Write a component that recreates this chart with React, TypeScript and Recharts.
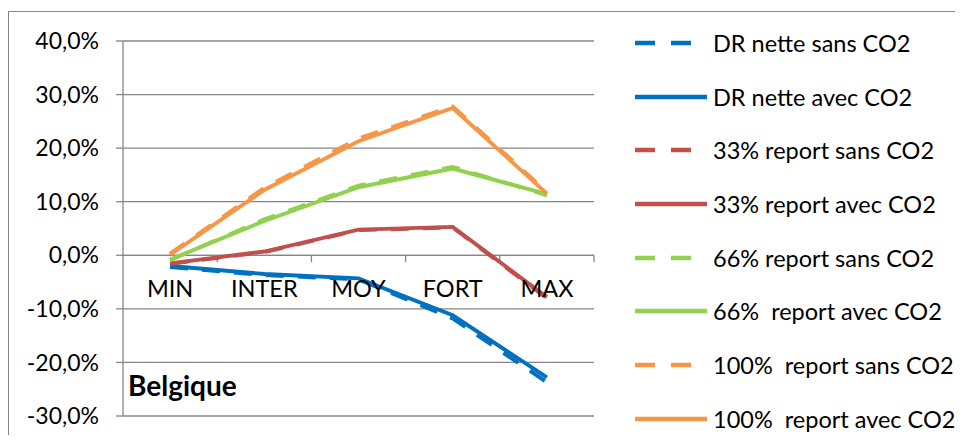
import React from 'react';
import { LineChart, Line, XAxis, YAxis, CartesianGrid, ReferenceLine, ReferenceDot, Legend } from 'recharts';

const categories = ['MIN', 'INTER', 'MOY', 'FORT', 'MAX'];
const drSans = [-2.2, -3.7, -4.5, -11.8, -23.7];
const drAvec = [-2.0, -3.5, -4.3, -11.2, -22.8];
const r33Sans = [-1.6, 0.6, 4.7, 5.2, -8.0];
const r33Avec = [-1.5, 0.7, 4.8, 5.3, -7.8];
const r66Sans = [-0.9, 6.7, 13.0, 16.5, 11.2];
const r66Avec = [-0.8, 6.4, 12.7, 16.2, 11.4];
const r100Sans = [0.3, 12.6, 21.8, 27.8, 11.8];
const r100Avec = [0.1, 12.2, 21.3, 27.5, 11.5];
const yTicks = [-30, -20, -10, 0, 10, 20, 30, 40];

const FONT = 'Lato, "Liberation Sans", sans-serif';
const GRID = '#868686';

const series = [
  { key: 'drSans', name: 'DR nette sans CO2', color: '#0070C0', dashed: true },
  { key: 'drAvec', name: 'DR nette avec CO2', color: '#0070C0', dashed: false },
  { key: 'r33Sans', name: '33% report sans CO2', color: '#C0504D', dashed: true },
  { key: 'r33Avec', name: '33% report avec CO2', color: '#C0504D', dashed: false },
  { key: 'r66Sans', name: '66% report sans CO2', color: '#92D050', dashed: true },
  { key: 'r66Avec', name: '66%  report avec CO2', color: '#92D050', dashed: false },
  { key: 'r100Sans', name: '100%  report sans CO2', color: '#F79646', dashed: true },
  { key: 'r100Avec', name: '100%  report avec CO2', color: '#F79646', dashed: false },
];

const data = categories.map((cat, i) => ({
  cat,
  x: i + 0.5,
  drSans: drSans[i],
  drAvec: drAvec[i],
  r33Sans: r33Sans[i],
  r33Avec: r33Avec[i],
  r66Sans: r66Sans[i],
  r66Avec: r66Avec[i],
  r100Sans: r100Sans[i],
  r100Avec: r100Avec[i],
}));

const fmt = (v: number) => v.toFixed(1).replace('.', ',') + '%';

const LegendBox = () => (
  <div style={{ fontFamily: FONT, fontSize: 23.5, color: '#000' }}>
    {series.map((s) => (
      <div key={s.key} style={{ height: 53.7, display: 'flex', alignItems: 'center', whiteSpace: 'pre' }}>
        <svg width={78} height={10} style={{ flexShrink: 0 }}>
          <line
            x1={0}
            y1={5}
            x2={72}
            y2={5}
            stroke={s.color}
            strokeWidth={4.5}
            strokeDasharray={s.dashed ? '20 16' : undefined}
          />
        </svg>
        <span>{s.name}</span>
      </div>
    ))}
  </div>
);

export default function App() {
  return (
    <div
      style={{
        position: 'relative',
        top: 3,
        width: 954,
        height: 426,
        borderLeft: `1px solid ${GRID}`,
        borderTop: `1px solid ${GRID}`,
      }}
    >
      <LineChart width={953} height={430} data={data} margin={{ top: 29, right: 368, bottom: 26, left: 0 }}>
        <CartesianGrid vertical={false} stroke={GRID} strokeWidth={1.3} />
        <XAxis type="number" dataKey="x" domain={[0, 5]} hide />
        <YAxis
          width={114}
          domain={[-30, 40]}
          ticks={yTicks}
          interval={0}
          tickFormatter={fmt}
          axisLine={{ stroke: GRID, strokeWidth: 1.3 }}
          tickLine={{ stroke: GRID, strokeWidth: 1.3 }}
          tickSize={7}
          tickMargin={17}
          tick={{ fill: '#000', fontSize: 23, fontFamily: FONT }}
        />
        <ReferenceLine y={0} stroke={GRID} strokeWidth={1.3} />
        {[1, 2, 3, 4, 5].map((k) => (
          <ReferenceLine
            key={'t' + k}
            segment={[
              { x: k, y: 0 },
              { x: k, y: -1.3 },
            ]}
            stroke={GRID}
            strokeWidth={1.3}
          />
        ))}
        {data.map((d) => (
          <ReferenceDot
            key={d.cat}
            x={d.x}
            y={0}
            r={0}
            stroke="none"
            fill="none"
            label={{ value: d.cat, position: 'bottom', offset: 25, fill: '#000', fontSize: 23.5, fontFamily: FONT }}
          />
        ))}
        {series.map((s) => (
          <Line
            key={s.key}
            dataKey={s.key}
            name={s.name}
            stroke={s.color}
            strokeWidth={3.9}
            strokeDasharray={s.dashed ? '18 14' : undefined}
            dot={false}
            activeDot={false}
            type="linear"
            isAnimationActive={false}
          />
        ))}
        <Legend
          layout="horizontal"
          verticalAlign="middle"
          align="center"
          wrapperStyle={{ position: 'absolute', left: 626, top: 4, width: 330 }}
          content={() => <LegendBox />}
        />
      </LineChart>
      <div
        style={{
          position: 'absolute',
          left: 119,
          top: 356,
          fontFamily: FONT,
          fontWeight: 700,
          fontSize: 28,
          color: '#000',
        }}
      >
        Belgique
      </div>
    </div>
  );
}
